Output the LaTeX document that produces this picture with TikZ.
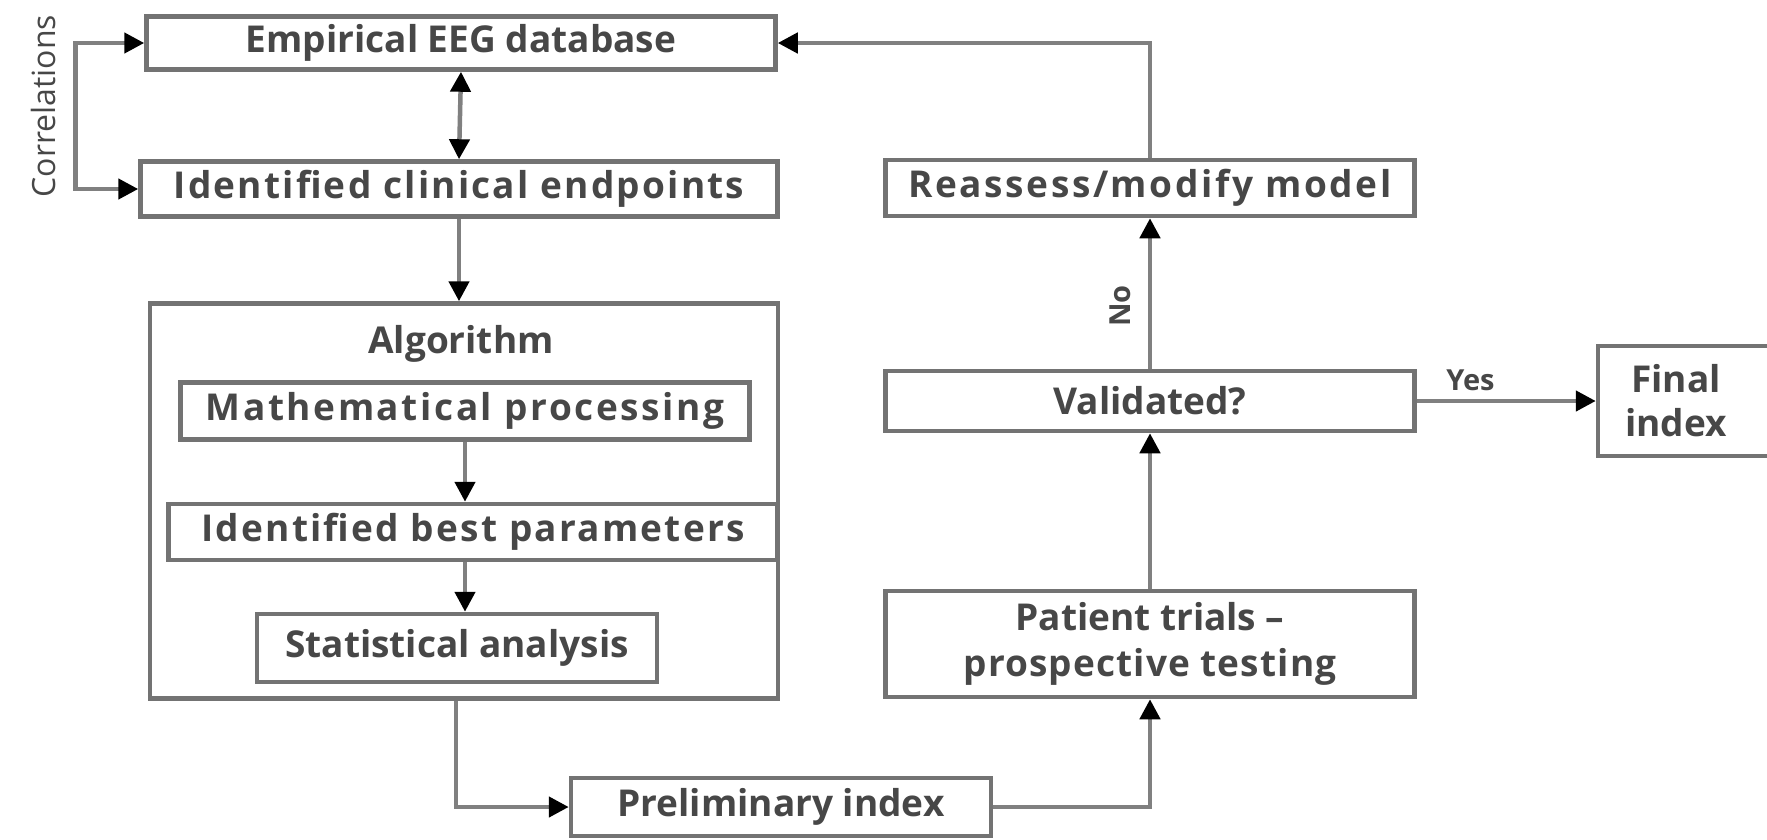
\documentclass[tikz,border=0pt]{standalone}
\usepackage{fontspec}
\setmainfont{Open Sans}
\usetikzlibrary{arrows.meta}
\newcommand{\lsp}[1]{\addfontfeature{LetterSpace=#1}}
\begin{document}
\begin{tikzpicture}[x=1pt,y=-1pt,
  box/.style={draw=black!55, line width=4.5pt, fill=white, text=black!72,
    font=\bfseries\fontsize{37}{46}\selectfont, align=center, inner sep=0pt, rectangle},
  conn/.style={draw=black!50, line width=4.5pt, -{Triangle[length=20pt,width=20pt,color=black]}},
  dconn/.style={draw=black!50, line width=4.5pt, {Triangle[length=20pt,width=20pt,color=black]}-{Triangle[length=20pt,width=20pt,color=black]}},
  lab/.style={text=black!72, font=\fontsize{32}{36}\selectfont, inner sep=0pt},
  blab/.style={text=black!72, font=\bfseries\fontsize{29}{34}\selectfont, inner sep=0pt}]
\useasboundingbox (0,0) rectangle (1767,839);
\node[box, minimum width=629pt, minimum height=53pt] (emp) at (461,43) {Empirical EEG database};
\node[box, minimum width=637pt, minimum height=55pt] (idc) at (459,189) {\lsp{6}Identified clinical endpoints};
\node[box, minimum width=628pt, minimum height=395pt] (alg) at (464,501) {};
\node[text=black!72, font=\bfseries\fontsize{37}{44}\selectfont, inner sep=0pt] (algl) at (461,344) {Algorithm};
\node[box, minimum width=569pt, minimum height=57pt] (math) at (465,411) {\lsp{7}Mathematical processing};
\node[box, minimum width=609pt, minimum height=56pt] (best) at (473,532) {\lsp{6}Identified best parameters};
\node[box, minimum width=400pt, minimum height=68pt] (stat) at (457,648) {Statistical analysis};
\node[box, minimum width=420pt, minimum height=58pt] (prel) at (781,807) {Preliminary index};
\node[box, minimum width=529pt, minimum height=106pt] (pat) at (1150,644) {Patient trials --\\{\lsp{3}prospective testing}};
\node[box, minimum width=529pt, minimum height=60pt] (val) at (1150,401) {Validated?};
\node[box, minimum width=529pt, minimum height=56pt] (rea) at (1150,188) {\lsp{7}Reassess/modify model};
\node[box, minimum width=200pt, minimum height=110pt] (fin) at (1698,401) {};
\node[text=black!72, font=\bfseries\fontsize{37}{44}\selectfont, align=center, inner sep=0pt] (finl) at (1676,401) {Final\\index};
\node[lab, rotate=90] (corr) at (43,106) {Correlations};
% connectors
\draw[dconn] (emp.south) -- (idc.north);
\draw[dconn] (emp.west) -- ++(-69,0) |- (idc.west);
\draw[conn] (idc.south) -- (idc.south |- alg.north);
\draw[conn] (math.south) -- (math.south |- best.north);
\draw[conn] (math.south |- best.south) -- (math.south |- stat.north);
\draw[conn] ([xshift=-8pt]alg.south) |- (prel.west);
\draw[conn] (prel.east) -| (pat.south);
\draw[conn] (pat.north) -- (val.south);
\draw[conn] (val.north) -- (rea.south);
\node[blab, rotate=90] (no) at (1120,306) {No};
\draw[conn] (val.east) -- node[blab, above=8pt, pos=0.3] (yes) {Yes} (fin.west);
\draw[conn] (rea.north) |- (emp.east);
\end{tikzpicture}
\end{document}
